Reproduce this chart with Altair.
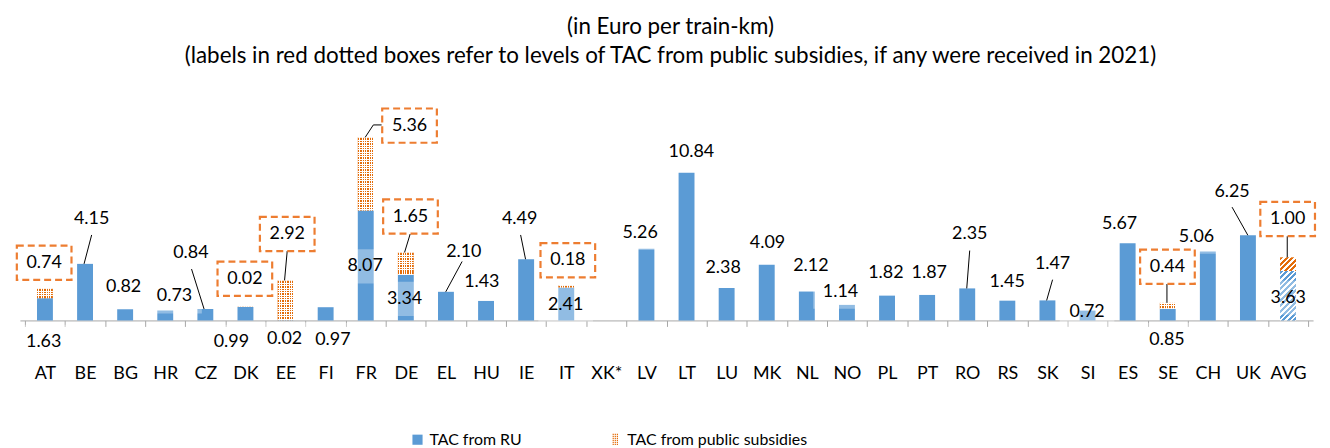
import json
import math
import altair as alt
import pandas as pd

# ---------------- data ----------------
CATEGORIES = ["AT", "BE", "BG", "HR", "CZ", "DK", "EE", "FI", "FR", "DE", "EL", "HU",
              "IE", "IT", "XK*", "LV", "LT", "LU", "MK", "NL", "NO", "PL", "PT", "RO",
              "RS", "SK", "SI", "ES", "SE", "CH", "UK", "AVG"]
TAC_RU = [1.63, 4.15, 0.82, 0.73, 0.84, 0.99, 0.02, 0.97, 8.07, 3.34, 2.10, 1.43,
          4.49, 2.41, None, 5.26, 10.84, 2.38, 4.09, 2.12, 1.14, 1.82, 1.87, 2.35,
          1.45, 1.47, 0.72, 5.67, 0.85, 5.06, 6.25, 3.63]
TAC_SUBSIDY = [0.74, None, None, None, None, 0.02, 2.92, None, 5.36, 1.65, None, None,
               None, 0.18, None, None, None, None, None, None, None, None, None, None,
               None, None, None, None, 0.44, None, None, 1.00]
SERIES = ["TAC from RU", "TAC from public subsidies"]
TITLE = ["(in Euro per train-km)",
         "(labels in red dotted boxes refer to levels of TAC from public subsidies, if any were received in 2021)"]

# ---------------- layout (label placement, px: dx from bar centre, height above baseline) -------------
RU_LABEL_POS = {
    "AT": (-1.3, -21.7), "BE": (6.7, 102), "BG": (-1.6, 33.3), "HR": (9.4, 24.3),
    "CZ": (-14.7, 68.3), "DK": (-14.3, -21.7), "EE": (-1, -19), "FI": (7.3, -19.7),
    "FR": (-0.6, 54.3), "DE": (-1.3, 21.7), "EL": (18.1, 69.3), "HU": (-4.3, 38.3),
    "IE": (-6.6, 101.7), "IT": (-0.6, 16), "LV": (-6.4, 88), "LT": (4.9, 169.3),
    "LU": (-3.6, 53), "MK": (0.8, 78), "NL": (4.1, 55), "NO": (-6.5, 29),
    "PL": (-1.2, 48), "PT": (2.1, 48), "RO": (2.5, 87), "RS": (-0.2, 39),
    "SK": (5.2, 57), "SI": (-0.5, 8.3), "ES": (-8.2, 97), "SE": (-0.8, -19.7),
    "CH": (-11.5, 84.3), "UK": (-16.1, 129.3), "AVG": (0.2, 23),
}
SUB_LABEL_POS = {
    "AT": (-0.8, 58), "DK": (-0.6, 42), "EE": (1.7, 87), "FR": (44.4, 196),
    "DE": (4.7, 104.5), "IT": (1.6, 60.5), "SE": (-0.3, 54), "AVG": (-0.4, 102),
}
# leader lines: (category, start dx, start height, end dx, end height or "top")
LEADERS = [
    ("BE", 6.7, 86, -1, "top"), ("CZ", -14, 51.7, -1.3, "top"), ("EE", 1.7, 70, -1, "top"),
    ("FR", 16.1, 196.7, 7.7, 196.7), ("FR", 7.7, 196.7, -0.6, "top"),
    ("DE", 4.4, 87, -1.3, "top"), ("EL", 16.4, 59.3, -0.2, "top"),
    ("IE", -5.6, 86, -0.6, "top"), ("RO", 2.5, 70.3, -0.5, "top"),
    ("SK", 5.2, 41, -0.8, "top"), ("SE", -0.8, 37, -0.8, "top"),
    ("UK", -16.1, 114, -0.1, "top"), ("AVG", -0.8, 85, -0.8, "top"),
]

# ---------------- style ----------------
FONT = "Lato"
BLUE = "#5B9BD5"
ORANGE = "#ED7D31"
DOT = "#E36C09"
W, H = 1301, 192
Y_MAX = 14.0
PX_PER_UNIT = H / Y_MAX
PX_PER_CAT = W / len(CATEGORIES)
BAR_W = 16
BOX_W, BOX_H = 55, 34.5
BOX_PATH = "M-1,-{r:.4f}H1V{r:.4f}H-1Z".format(r=BOX_H / BOX_W)

# ---------------- tables ----------------
rows = []
for i, (c, r, s) in enumerate(zip(CATEGORIES, TAC_RU, TAC_SUBSIDY)):
    rows.append({"idx": i, "cat": c, "ru": r, "sub": s,
                 "total": (r or 0) + (s or 0) if s is not None else None})
df = pd.DataFrame(rows)

ru_lab = []
for i, (c, r) in enumerate(zip(CATEGORIES, TAC_RU)):
    if r is None:
        continue
    dx, up = RU_LABEL_POS[c]
    ru_lab.append({"lx": i + dx / PX_PER_CAT, "ly": up / PX_PER_UNIT, "txt": f"{r:.2f}"})
ru_lab = pd.DataFrame(ru_lab)

sub_lab = []
for i, (c, s) in enumerate(zip(CATEGORIES, TAC_SUBSIDY)):
    if s is None:
        continue
    dx, up = SUB_LABEL_POS[c]
    sub_lab.append({"lx": i + dx / PX_PER_CAT, "ly": up / PX_PER_UNIT, "txt": f"{s:.2f}"})
sub_lab = pd.DataFrame(sub_lab)

lead = []
for c, sdx, sup, edx, eup in LEADERS:
    i = CATEGORIES.index(c)
    top = (TAC_RU[i] or 0) + (TAC_SUBSIDY[i] or 0)
    lead.append({"x1": i + sdx / PX_PER_CAT, "y1": sup / PX_PER_UNIT,
                 "x2": i + edx / PX_PER_CAT,
                 "y2": top if eup == "top" else eup / PX_PER_UNIT})
lead = pd.DataFrame(lead)

legend_df = pd.DataFrame({"series": SERIES, "idx": [0, 0], "v": [0, 0]})

# ---------------- gradients (fill patterns) ----------------
def grad(stops, x1, y1, x2, y2):
    return {"gradient": "linear", "x1": x1, "y1": y1, "x2": x2, "y2": y2,
            "stops": [{"offset": round(min(max(o, 0), 1), 5), "color": col} for col, o in stops]}


def stripes(length, period, on, col_on, col_off):
    st = []
    p = 0.0
    while p < length:
        a, b, c = p / length, min((p + on) / length, 1), min((p + period) / length, 1)
        st += [(col_on, a), (col_on, b), (col_off, b), (col_off, c)]
        p += period
    return st


V_STRIPES = grad(stripes(BAR_W, 2.4, 1.4, DOT, "white"), 0, 0, 1, 0)


def h_stripes(h):
    return grad(stripes(h, 2.4, 1.0, "white", "rgba(255,255,255,0)"), 0, 0, 0, 1)


def diag(w, h, col, period=4.0, on=2.2):
    lam = (w + h) / (w * w + h * h)
    length = (w + h) / math.sqrt(2)
    return grad(stripes(length, period, on, col, "white"), 0, 0, w * lam, h * lam)


# ---------------- chart ----------------
xs = alt.Scale(domain=[-0.5, len(CATEGORIES) - 0.5], nice=False, zero=False)
ys = alt.Scale(domain=[0, Y_MAX], nice=False, zero=True)
cats_js = json.dumps(CATEGORIES).replace('"', "'")
x_axis = alt.Axis(
    values=[k / 2 - 0.5 for k in range(2 * len(CATEGORIES) + 1)],
    labelExpr=f"datum.value % 1 == 0 ? {cats_js}[datum.value] : ''",
    tickOpacity={"condition": {"test": "datum.value % 1 == 0", "value": 0}, "value": 1},
    labelFont=FONT, labelFontSize=18, labelColor="black", labelPadding=38,
    labelOverlap=False, labelFlush=False, labelBound=False,
    domainColor="#A6A6A6", tickColor="#A6A6A6", tickSize=6, grid=False, title=None,
)


def XQ(field):
    return alt.X(field, scale=xs, axis=x_axis)


def YQ(field):
    return alt.Y(field, scale=ys, axis=None)


base = alt.Chart(df)

ru_bars = base.transform_filter("isValid(datum.ru) && datum.cat != 'AVG'").mark_bar(
    size=BAR_W, fill=BLUE).encode(x=XQ("idx:Q"), y=YQ("ru:Q"))

sub_filter = "isValid(datum.sub) && datum.cat != 'AVG'"
sub_bars = base.transform_filter(sub_filter).mark_bar(size=BAR_W, fill=V_STRIPES).encode(
    x=XQ("idx:Q"), y=YQ("ru:Q"), y2="total:Q")

layers = [ru_bars, sub_bars]
for i, (c, s) in enumerate(zip(CATEGORIES, TAC_SUBSIDY)):
    if s is None or c == "AVG":
        continue
    layers.append(base.transform_filter(f"datum.cat == '{c}'").mark_bar(
        size=BAR_W, fill=h_stripes(s * PX_PER_UNIT)).encode(
        x=XQ("idx:Q"), y=YQ("ru:Q"), y2="total:Q"))

ia = CATEGORIES.index("AVG")
layers.append(base.transform_filter("datum.cat == 'AVG'").mark_bar(
    size=BAR_W, fill=diag(BAR_W, TAC_RU[ia] * PX_PER_UNIT, BLUE)).encode(
    x=XQ("idx:Q"), y=YQ("ru:Q")))
layers.append(base.transform_filter("datum.cat == 'AVG'").mark_bar(
    size=BAR_W, fill=diag(BAR_W, TAC_SUBSIDY[ia] * PX_PER_UNIT, DOT)).encode(
    x=XQ("idx:Q"), y=YQ("ru:Q"), y2="total:Q"))

label_bg = alt.Chart(ru_lab).mark_point(
    shape=BOX_PATH, size=BOX_W ** 2, filled=True, fill="white", fillOpacity=0.33,
    strokeOpacity=0, opacity=1).encode(x=XQ("lx:Q"), y=YQ("ly:Q"))

leaders = alt.Chart(lead).mark_rule(color="black", strokeWidth=1).encode(
    x=XQ("x1:Q"), y=YQ("y1:Q"), x2="x2:Q", y2="y2:Q")

sub_boxes = alt.Chart(sub_lab).mark_point(
    shape=BOX_PATH, size=BOX_W ** 2, filled=True, fill="white", fillOpacity=1,
    stroke=ORANGE, strokeWidth=2.2, strokeDash=[7, 4], opacity=1).encode(
    x=XQ("lx:Q"), y=YQ("ly:Q"))

txt_kw = dict(font=FONT, fontSize=18, color="black", align="center", baseline="middle")
ru_text = alt.Chart(ru_lab).mark_text(**txt_kw).encode(x=XQ("lx:Q"), y=YQ("ly:Q"), text="txt:N")
sub_text = alt.Chart(sub_lab).mark_text(**txt_kw).encode(x=XQ("lx:Q"), y=YQ("ly:Q"), text="txt:N")

SQUARE_PATH = "M-0.85,-0.85H0.85V0.85H-0.85Z"
dots = []
for cx in (-0.45, -0.1, 0.25):
    for cy in (-1.0, -0.667, -0.333, 0.0, 0.333, 0.667):
        dots.append(f"M{cx},{cy}h0.2v0.2h-0.2Z")
DOTS_PATH = "".join(dots)

leg = alt.Legend(title=None, orient="none", legendX=392, legendY=304, direction="horizontal",
                 labelFont=FONT, labelFontSize=16, labelColor="black", symbolSize=144,
                 symbolStrokeWidth=0, symbolOpacity=1, labelOffset=4, columnPadding=86,
                 padding=0, labelLimit=400)
legend_layer = alt.Chart(legend_df).mark_point(filled=True, opacity=0, size=144).encode(
    x=XQ("idx:Q"), y=YQ("v:Q"),
    color=alt.Color("series:N", scale=alt.Scale(domain=SERIES, range=[BLUE, DOT]), legend=leg),
    shape=alt.Shape("series:N", scale=alt.Scale(domain=SERIES, range=[SQUARE_PATH, DOTS_PATH]),
                    legend=leg),
)

layers += [label_bg, leaders, sub_boxes, ru_text, sub_text, legend_layer]

chart = alt.layer(*layers).properties(
    width=W, height=H,
    autosize=alt.AutoSizeParams(type="none"),
    padding={"left": 12, "top": 121, "right": 9, "bottom": 127},
    background="white",
    title=alt.TitleParams(text=TITLE, font=FONT, fontSize=22.5, fontWeight="normal",
                          color="black", anchor="middle", frame="group", lineHeight=29,
                          offset=37, dx=4),
).configure_view(strokeWidth=0)

chart.save("out.html", embed_options={"renderer": "svg", "actions": False})
